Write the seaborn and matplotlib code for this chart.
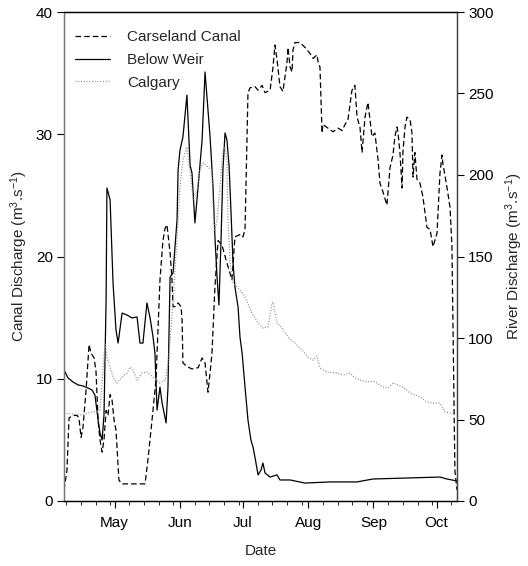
import matplotlib
matplotlib.use("Agg")
import matplotlib.pyplot as plt
import matplotlib.dates as mdates
from matplotlib.lines import Line2D
import seaborn as sns
import pandas as pd

# ---- data (days after 7 April, discharge values) ----
canal_day = [0, 1.4, 2.4, 4.3, 6.2, 7.1, 8.1, 9.0, 10.5, 11.9, 12.8, 14.3, 15.2, 16.2, 17.1, 18.1,
             19.0, 20.0, 20.9, 21.9, 22.8, 23.8, 24.7, 26.1, 27.6, 38.5, 39.9, 41.8, 43.7, 45.6,
             47.0, 48.0, 48.9, 50.4, 51.3, 51.8, 52.7, 54.2, 55.6, 56.1, 56.5, 58.4, 60.8, 63.7,
             65.6, 67.0, 68.4, 69.4, 70.3, 71.7, 73.2, 75.1, 77.0, 79.8, 81.2, 83.6, 85.0, 86.0,
             87.4, 88.4, 90.7, 92.2, 94.1, 95.5, 97.9, 99.3, 100.2, 101.2, 102.6, 104.0, 105.9,
             106.4, 107.4, 108.3, 108.8, 109.7, 110.7, 112.1, 114.5, 116.9, 118.3, 120.2, 120.7,
             121.6, 122.6, 123.0, 125.4, 127.8, 130.2, 132.1, 133.5, 134.9, 136.8, 138.2, 139.2,
             140.6, 141.6, 143.0, 144.4, 146.3, 147.7, 149.2, 150.1, 151.5, 153.4, 154.9, 156.3,
             157.2, 158.2, 158.7, 159.6, 160.6, 161.0, 162.0, 162.9, 164.4, 165.3, 165.8, 166.7,
             167.7, 169.1, 170.5, 172.4, 173.9, 175.3, 177.2, 178.6, 179.6, 180.0, 181.9, 183.4,
             184.3, 185.7, 186.7]
canal_q = [0.9, 2.5, 6.8, 7.0, 7.0, 6.8, 5.2, 6.0, 9.1, 12.8, 12.1, 11.7, 10.6, 6.6, 5.0, 4.0,
           5.0, 7.4, 7.0, 8.7, 8.3, 6.6, 5.8, 1.7, 1.4, 1.4, 3.4, 6.6, 9.9, 18.1,
           21.3, 22.3, 22.6, 20.3, 18.1, 15.9, 15.9, 16.2, 15.9, 14.8, 11.3, 11.0, 10.8, 10.9,
           11.7, 11.3, 8.9, 10.5, 12.1, 17.5, 21.3, 20.9, 19.7, 18.1, 21.6, 21.8, 21.6, 22.2,
           33.4, 33.8, 33.9, 33.6, 34.0, 33.4, 33.6, 35.5, 37.3, 36.1, 33.9, 33.5, 35.8,
           37.1, 35.5, 35.1, 36.9, 37.5, 37.5, 37.5, 37.1, 36.6, 36.2, 36.5, 35.9,
           35.5, 30.1, 30.8, 30.5, 30.2, 30.5, 30.3, 30.8, 31.2, 33.6, 34.0, 31.4,
           30.6, 28.5, 31.4, 32.6, 29.8, 30.1, 27.9, 26.0, 25.3, 24.2, 27.3, 28.3,
           29.8, 30.6, 30.1, 28.5, 25.6, 28.5, 30.6, 31.4, 31.2, 30.1, 26.5, 28.5,
           26.3, 26.0, 24.9, 22.4, 22.2, 20.8, 21.9, 26.8, 28.3, 27.6, 25.7, 24.0,
           20.8, 2.5, 0.9]

weir_day = [0, 1.9, 4.3, 6.7, 9.0, 11.4, 13.3, 14.7, 16.2, 17.1, 18.1, 19.0, 20.0, 20.4, 21.9,
            23.3, 24.7, 25.7, 27.6, 29.9, 32.3, 34.7, 36.1, 37.5, 39.4, 40.9, 42.3, 43.2, 44.2,
            45.6, 46.6, 48.5, 49.4, 50.4, 51.8, 53.7, 54.2, 55.1, 56.5, 58.4, 59.9, 60.8, 62.2,
            63.7, 65.6, 67.0, 68.4, 69.4, 70.8, 71.7, 72.7, 73.6, 74.6, 75.5, 76.5, 77.4, 78.4,
            79.3, 80.3, 81.2, 82.7, 83.6, 84.6, 86.0, 87.4, 88.8, 89.8, 90.7, 92.2, 93.6, 94.5,
            95.5, 97.9, 101.2, 102.6, 107.4, 114.5, 126.4, 139.2, 146.8, 162.9, 178.6, 181.9,
            186.7]
weir_q = [80.4, 75.5, 73.0, 71.2, 70.6, 69.3, 68.1, 65.0, 49.7, 41.7, 37.4, 52.8, 123.3, 192.0,
          184.7, 133.7, 104.9, 96.9, 115.3, 114.1, 112.3, 112.9, 96.9, 96.9, 121.5, 112.3, 100.6,
          90.8, 55.8, 69.9, 60.1, 47.9, 69.9, 137.4, 139.9, 172.4, 203.0, 215.3, 223.3, 249.0,
          206.1, 201.2, 170.6, 192.6, 221.5, 263.2, 239.9, 223.3, 192.6, 162.0, 137.4, 120.2,
          160.1, 203.1, 225.8, 221.5, 206.1, 178.5, 146.0, 131.3, 119.0, 100.6, 90.8, 69.9,
          49.7, 37.4, 33.1, 27.0, 16.0, 19.0, 23.3, 17.2, 14.7, 16.0, 12.9, 12.9, 11.0, 11.7,
          11.7, 13.5, 14.1, 14.7, 13.5, 12.3]

calgary_day = [0, 7.6, 13.8, 17.1, 19.5, 20.4, 21.9, 23.3, 25.2, 27.6, 29.9, 31.4, 32.8, 34.7,
               37.1, 39.4, 42.3, 45.6, 48.0, 49.4, 50.8, 51.8, 53.7, 55.1, 56.5, 58.4, 58.9,
               60.8, 61.3, 63.2, 64.6, 66.0, 68.4, 70.3, 70.8, 71.7, 72.7, 74.1, 75.5, 76.5,
               77.4, 77.9, 78.9, 80.3, 83.6, 86.0, 89.3, 92.2, 94.5, 96.9, 98.8, 99.3, 101.2,
               103.6, 106.4, 109.7, 113.1, 115.9, 118.3, 120.2, 121.6, 124.9, 129.7, 132.5,
               135.9, 138.2, 140.6, 143.9, 146.8, 148.7, 151.5, 153.9, 156.3, 158.7, 161.0,
               164.4, 169.1, 172.4, 175.3, 178.6, 181.0, 183.4, 185.7]
calgary_q = [54.0, 52.8, 54.6, 55.8, 96.9, 88.3, 82.2, 76.1, 72.4, 76.1, 78.5, 82.2, 80.4, 74.2,
             78.5, 79.1, 76.1, 72.4, 74.2, 83.4, 104.9, 121.5, 162.0, 192.6, 209.2, 217.2, 211.0,
             192.6, 184.7, 190.8, 203.1, 207.4, 204.9, 203.1, 182.8, 166.3, 172.4, 192.6, 215.3,
             217.2, 207.4, 172.4, 146.0, 133.7, 129.4, 125.2, 115.3, 109.2, 106.1, 106.7, 121.5,
             122.1, 109.2, 106.1, 100.6, 96.9, 92.6, 88.3, 86.5, 89.0, 81.6, 79.1, 78.5, 77.3,
             78.5, 75.5, 74.2, 73.0, 73.6, 72.4, 69.9, 69.3, 72.4, 71.2, 69.9,
             66.3, 63.8, 60.7, 60.1, 60.1, 54.6, 54.0, 54.0]

series_names = ["Carseland Canal", "Below Weir", "Calgary"]
start_date = "2001-04-07"
end_day = 186.7
left_ticks = [0, 10, 20, 30, 40]
right_ticks = [0, 50, 100, 150, 200, 250, 300]

base = pd.Timestamp(start_date)
def to_dates(days):
    return base + pd.to_timedelta(days, unit="D")

canal_df = pd.DataFrame({"date": to_dates(canal_day), "q": canal_q})
weir_df = pd.DataFrame({"date": to_dates(weir_day), "q": weir_q})
cal_df = pd.DataFrame({"date": to_dates(calgary_day), "q": calgary_q})

sns.set_style("ticks")
plt.rcParams["font.family"] = ["Liberation Sans", "DejaVu Sans"]
plt.rcParams["mathtext.fontset"] = "custom"
plt.rcParams["mathtext.rm"] = "Liberation Sans"
plt.rcParams["mathtext.it"] = "Liberation Sans:italic"
plt.rcParams["mathtext.default"] = "regular"

fs = 11
fig = plt.figure(figsize=(5.28, 5.66), dpi=100)
ax = fig.add_axes([64 / 528, 65 / 566, 393 / 528, 489 / 566])
ax2 = ax.twinx()

dash = [4.5, 2.4]
dot = [0.8, 1.4]
sns.lineplot(data=canal_df, x="date", y="q", ax=ax, color="black", linewidth=0.9,
             estimator=None, sort=False)
ax.lines[-1].set_dashes(dash)
sns.lineplot(data=weir_df, x="date", y="q", ax=ax2, color="black", linewidth=0.9,
             estimator=None, sort=False)
sns.lineplot(data=cal_df, x="date", y="q", ax=ax2, color="#8a8a8a", linewidth=0.9,
             estimator=None, sort=False)
ax2.lines[-1].set_dashes(dot)

ax.set_xlim(base, base + pd.Timedelta(days=end_day))
ax.set_ylim(0, 40)
ax2.set_ylim(0, 300)
ax.set_yticks(left_ticks)
ax2.set_yticks(right_ticks)

ax.xaxis.set_major_locator(mdates.MonthLocator())
ax.xaxis.set_major_formatter(mdates.DateFormatter("%b"))
ax.xaxis.set_minor_locator(mdates.DayLocator(bymonthday=[8, 15, 22, 29]))

for a in (ax, ax2):
    a.tick_params(axis="both", which="major", direction="out", length=5, width=0.8,
                  labelsize=fs, colors="black", pad=3)
    a.tick_params(axis="both", which="minor", direction="out", length=3, width=0.7)
    for s in a.spines.values():
        s.set_visible(True)
        s.set_linewidth(0.9)
        s.set_color("black")
for a in (ax, ax2):
    a.spines["left"].set_color("#777777")
    a.spines["right"].set_color("#444444")
ax.tick_params(axis="x", which="major", pad=6)

ax.set_xlabel("Date", fontsize=fs, labelpad=10)
ax.set_ylabel("Canal Discharge (m$^{3}$.s$^{-1}$)", fontsize=fs, labelpad=4)
ax2.set_ylabel("River Discharge (m$^{3}$.s$^{-1}$)", fontsize=fs, labelpad=7)

handles = [
    Line2D([], [], color="black", linewidth=0.9, dashes=dash),
    Line2D([], [], color="black", linewidth=0.9),
    Line2D([], [], color="#8a8a8a", linewidth=0.9, dashes=dot),
]
ax2.legend(handles, series_names, loc="upper left", bbox_to_anchor=(0.028, 0.963),
           frameon=False, fontsize=fs, handlelength=2.3, handletextpad=1.1,
           labelspacing=0.58, borderpad=0, borderaxespad=0)

fig.savefig("out.png", dpi=100)
